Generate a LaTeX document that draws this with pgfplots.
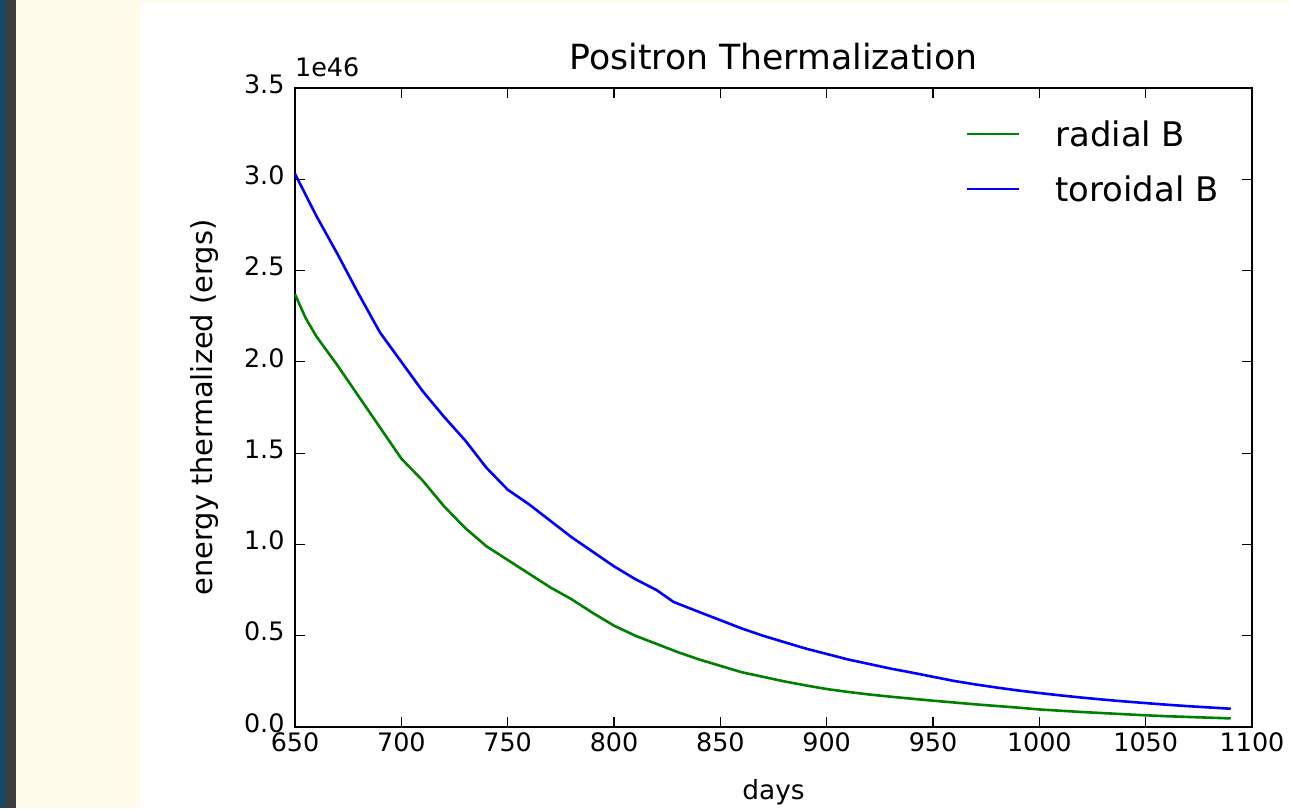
\documentclass[border=0pt]{standalone}
\usepackage{fontspec}
\setmainfont{DejaVu Sans}
\usepackage{pgfplots}
\pgfplotsset{compat=1.18}
\definecolor{mplgreen}{RGB}{0,128,0}
\definecolor{mplblue}{RGB}{0,0,255}
\definecolor{cream}{RGB}{255,251,235}
\definecolor{darkstrip}{RGB}{22,72,100}
\definecolor{graystrip}{RGB}{60,60,60}

\pgfplotstableread{
x y
650 2.37
655 2.24
660 2.14
670 1.98
680 1.81
690 1.64
700 1.47
710 1.35
720 1.21
730 1.09
740 0.99
750 0.915
760 0.84
770 0.765
780 0.70
790 0.625
800 0.555
810 0.50
820 0.455
830 0.41
840 0.37
850 0.335
860 0.30
870 0.275
880 0.25
890 0.228
900 0.208
910 0.192
920 0.178
930 0.166
940 0.155
950 0.144
960 0.134
970 0.124
980 0.115
990 0.106
1000 0.096
1010 0.089
1020 0.082
1030 0.076
1040 0.070
1050 0.064
1060 0.059
1070 0.055
1080 0.051
1090 0.047
}\radial

\pgfplotstableread{
x y
650 3.03
660 2.80
670 2.59
680 2.37
690 2.16
700 2.00
710 1.84
720 1.70
730 1.57
740 1.42
750 1.30
760 1.22
770 1.13
780 1.04
790 0.96
800 0.88
810 0.81
820 0.75
828 0.685
840 0.63
850 0.585
860 0.54
870 0.50
880 0.465
890 0.43
900 0.40
910 0.37
920 0.345
930 0.32
940 0.298
950 0.275
960 0.252
970 0.233
980 0.216
990 0.200
1000 0.186
1010 0.173
1020 0.161
1030 0.150
1040 0.140
1050 0.131
1060 0.122
1070 0.114
1080 0.107
1090 0.100
}\toroidal

\begin{document}
\begin{tikzpicture}[x=1bp,y=1bp]
\fill[cream] (0,0) rectangle (1289,808);
\fill[darkstrip] (0,0) rectangle (6,808);
\fill[graystrip] (6,0) rectangle (16,808);
\fill[white] (140,0) rectangle (1289,805);
\begin{axis}[
  at={(295bp,81bp)}, anchor=south west,
  width=957bp, height=639bp, scale only axis,
  clip=false,
  xmin=650, xmax=1100, ymin=0, ymax=3.5,
  xtick={650,700,...,1100},
  ytick={0,0.5,...,3.5},
  xtick pos=both, ytick pos=both,
  tick align=inside,
  major tick length=10bp,
  every tick/.style={black, line width=1.2bp},
  axis line style={black, line width=2.4bp},
  /pgf/number format/assume math mode=true,
  xticklabel style={/pgf/number format/set thousands separator={}, font=\fontsize{25.5}{28}\selectfont, yshift=-2bp},
  yticklabel style={/pgf/number format/fixed, /pgf/number format/fixed zerofill, /pgf/number format/precision=1, font=\fontsize{25.5}{28}\selectfont, xshift=-7bp, yshift=4bp},
  scaled y ticks=false,
  title={Positron Thermalization},
  every axis title/.style={at={(rel axis cs:0.5,1.0282)}, anchor=base, font=\fontsize{34.8}{38}\selectfont},
  xlabel={days},
  every axis x label/.style={at={(rel axis cs:0.5,-0.1142)}, anchor=base, font=\fontsize{26.5}{30}\selectfont},
  ylabel={energy thermalized (ergs)},
  every axis y label/.style={at={(rel axis cs:-0.0867,0.5)}, rotate=90, anchor=base, font=\fontsize{29}{32}\selectfont},
  legend image code/.code={\draw[#1] (0bp,0bp) -- (52bp,0bp);},
  legend cell align=left,
  legend style={draw=none, fill=none, at={(rel axis cs:0.6976,0.9546)}, anchor=north west,
    font=\fontsize{34}{38}\selectfont,
    nodes={inner sep=0bp, text height=27bp, text depth=3bp},
    row sep=25bp,
    /tikz/every odd column/.append style={column sep=35bp}},
]
\addplot[mplgreen, line width=2.6bp] table[x=x,y=y] {\radial};
\addlegendentry{radial B}
\addplot[mplblue, line width=2.6bp] table[x=x,y=y] {\toroidal};
\addlegendentry{toroidal B}
\node[anchor=base west, font=\fontsize{25.5}{28}\selectfont, inner sep=0pt] at (rel axis cs:0,1.0172) {1e46};
\end{axis}
\end{tikzpicture}
\end{document}
